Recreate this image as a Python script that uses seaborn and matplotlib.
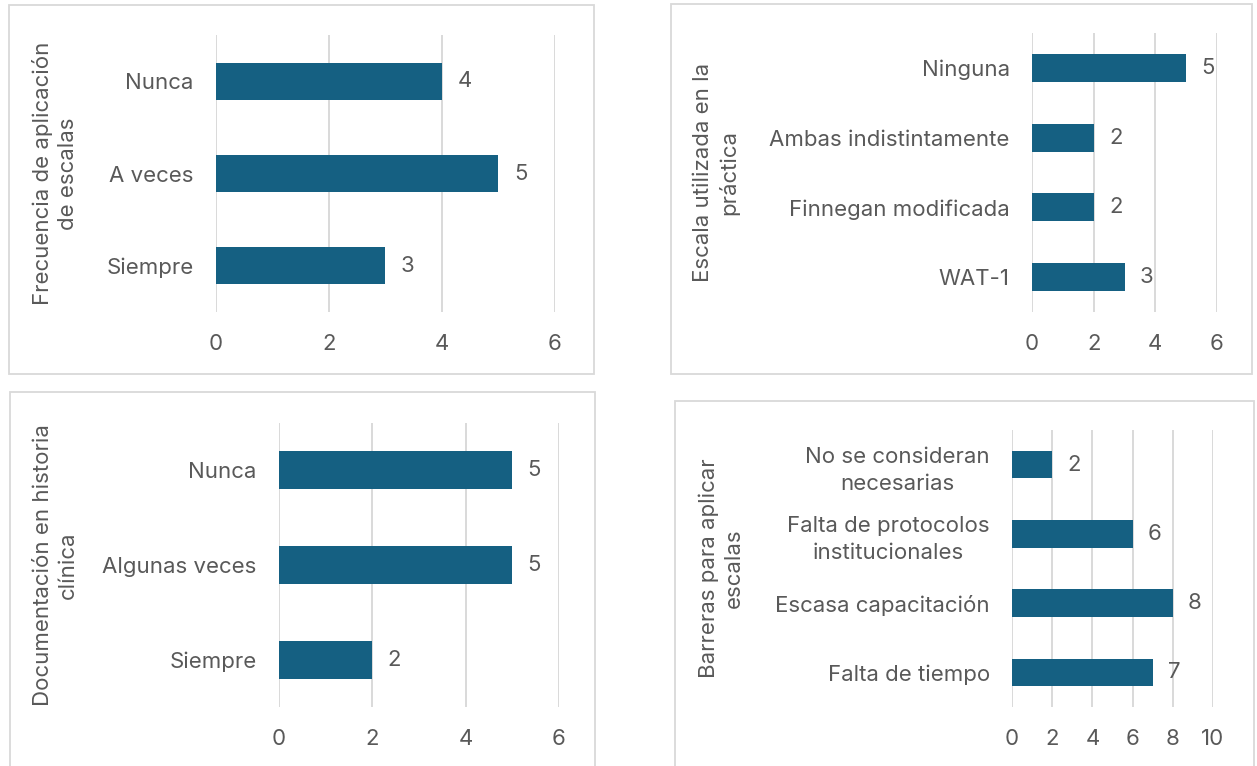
import matplotlib
matplotlib.use('Agg')
import matplotlib.pyplot as plt
import seaborn as sns
from matplotlib.patches import Rectangle

# data
frec_cats = ['Nunca', 'A veces', 'Siempre']
frec_vals = [4, 5, 3]

escala_cats = ['Ninguna', 'Ambas indistintamente', 'Finnegan modificada', 'WAT-1']
escala_vals = [5, 2, 2, 3]

doc_cats = ['Nunca', 'Algunas veces', 'Siempre']
doc_vals = [5, 5, 2]

barr_cats = ['No se consideran\nnecesarias', 'Falta de protocolos\ninstitucionales',
             'Escasa capacitación', 'Falta de tiempo']
barr_vals = [2, 6, 8, 7]

BAR = '#156082'
GRID = '#D9D9D9'
TXT = '#595959'
W, H = 1257, 766
FS = 16

sns.set_style('white')
plt.rcParams['font.family'] = ['Inter', 'DejaVu Sans']

fig = plt.figure(figsize=(W / 100, H / 100), dpi=100)


def px_rect(l, t, r, b):
    return [l / W, 1 - b / H, (r - l) / W, (b - t) / H]


def panel(box, axrect, cats, vals, xmax, step, label, label_x):
    # border box
    bl, bt, br, bb = box
    fig.patches.append(Rectangle((bl / W, 1 - bb / H), (br - bl) / W, (bb - bt) / H,
                                 transform=fig.transFigure, fill=False,
                                 edgecolor=GRID, linewidth=1.3))
    ax = fig.add_axes(px_rect(*axrect))
    sns.barplot(x=vals, y=cats, orient='h', color=BAR, saturation=1,
                width=0.4, linewidth=0, ax=ax, zorder=3)
    ax.set_xlim(0, xmax)
    ax.set_ylim(len(cats) - 0.5, -0.5)
    ax.set_xticks(range(0, xmax + 1, step))
    ax.grid(axis='x', color=GRID, linewidth=1.4, zorder=0)
    ax.grid(axis='y', visible=False)
    ax.set_axisbelow(True)
    sns.despine(ax=ax, left=True, bottom=True)
    ax.tick_params(axis='both', length=0, labelsize=FS, labelcolor=TXT)
    ax.tick_params(axis='y', pad=16)
    ax.tick_params(axis='x', pad=16)
    for lbl in ax.get_yticklabels():
        lbl.set_multialignment('center')
        lbl.set_linespacing(1.45)
    ax.set_xlabel('')
    ax.set_ylabel('')
    ax.bar_label(ax.containers[0], padding=11, fontsize=FS, color=TXT)
    l, t, r, b = axrect
    fig.text(label_x / W, 1 - ((t + b) / 2) / H, label, rotation=90,
             ha='center', va='center', multialignment='center',
             fontsize=FS, color=TXT, linespacing=1.3)
    return ax


panel((9, 5, 594, 374), (216, 35, 555, 312), frec_cats, frec_vals, 6, 2,
      'Frecuencia de aplicación\nde escalas', 55)
panel((671, 4, 1252, 374), (1032, 33, 1217, 312), escala_cats, escala_vals, 6, 2,
      'Escala utilizada en la\npráctica', 716)
panel((10, 392, 595, 800), (279, 423, 559, 707), doc_cats, doc_vals, 6, 2,
      'Documentación en historia\nclínica', 55)
panel((675, 401, 1254, 800), (1012, 430, 1213, 707), barr_cats, barr_vals, 10, 2,
      'Barreras para aplicar\nescalas', 721)

fig.savefig('out.png', dpi=100)
